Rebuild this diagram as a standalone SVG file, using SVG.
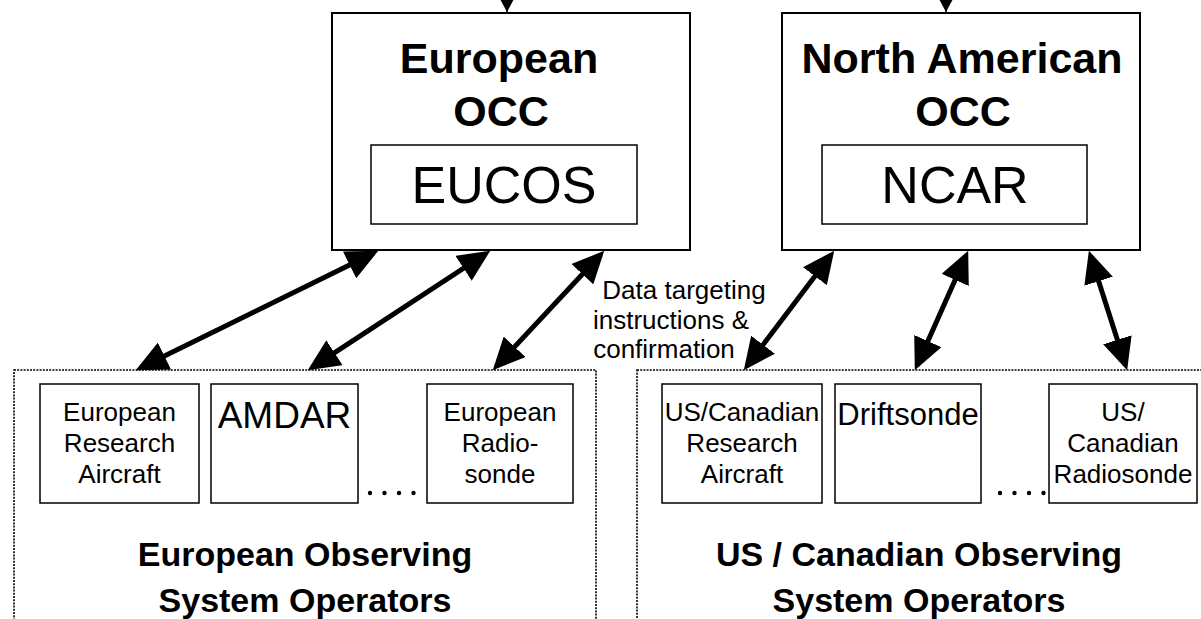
<svg xmlns="http://www.w3.org/2000/svg" width="1201" height="619" viewBox="0 0 1201 619">
<style>
  text { font-family: "Liberation Sans", Arial, sans-serif; fill: #000; text-anchor: middle; }
  .occ { fill: #fff; stroke: #000; stroke-width: 2; }
  .inner { fill: #fff; stroke: #000; stroke-width: 1.5; }
  .group { fill: none; stroke: #000; stroke-width: 1.6; stroke-dasharray: 2 1.2; }
  .title { font-weight: bold; font-size: 43px; }
  .big { font-size: 52px; }
  .small { font-size: 26px; }
  .grp { font-weight: bold; font-size: 34px; }
  .conn { stroke: #000; stroke-width: 5; fill: none; marker-start: url(#ah); marker-end: url(#ah); }
  .dot { fill: #000; }
</style>
<defs>
  <marker id="ah" markerUnits="userSpaceOnUse" markerWidth="32" markerHeight="30" refX="25" refY="14" orient="auto-start-reverse" viewBox="0 0 30 28">
    <path d="M0,0 L30,14 L0,28 Z" fill="#000"/>
  </marker>
  <marker id="top" markerUnits="userSpaceOnUse" markerWidth="16" markerHeight="16" refX="14" refY="7.5" orient="auto" viewBox="0 0 14 15">
    <path d="M0,0 L14,7.5 L0,15 Z" fill="#000"/>
  </marker>
</defs>

<g id="eu-group">
  <rect class="group" x="14" y="370" width="582" height="260"/>
  <text class="grp" x="305" y="566">European Observing</text>
  <text class="grp" x="305" y="612">System Operators</text>
</g>
<g id="us-group">
  <rect class="group" x="637" y="370" width="600" height="260"/>
  <text class="grp" x="919" y="566">US / Canadian Observing</text>
  <text class="grp" x="919" y="612">System Operators</text>
</g>

<g id="eu-occ">
  <rect class="occ" x="332" y="13" width="358" height="237"/>
  <text class="title" x="499" y="73">European</text>
  <text class="title" x="501" y="126">OCC</text>
</g>
<g id="eucos">
  <rect class="inner" x="371" y="145" width="266" height="79"/>
  <text class="big" x="504" y="203">EUCOS</text>
</g>
<g id="na-occ">
  <rect class="occ" x="782" y="13" width="358" height="237"/>
  <text class="title" x="962" y="73">North American</text>
  <text class="title" x="963" y="126">OCC</text>
</g>
<g id="ncar">
  <rect class="inner" x="822" y="145" width="265" height="79"/>
  <text class="big" x="955" y="203">NCAR</text>
</g>

<g id="eu-aircraft">
  <rect class="inner" x="40" y="384" width="159" height="119"/>
  <text class="small" x="119.5" y="421">European</text>
  <text class="small" x="119.5" y="452">Research</text>
  <text class="small" x="119.5" y="483">Aircraft</text>
</g>
<g id="amdar">
  <rect class="inner" x="211" y="384" width="147" height="119"/>
  <text x="284.5" y="428" style="font-size:37px">AMDAR</text>
</g>
<g id="eu-radiosonde">
  <rect class="inner" x="427" y="384" width="146" height="119"/>
  <text class="small" x="500" y="421">European</text>
  <text class="small" x="500" y="452">Radio-</text>
  <text class="small" x="500" y="483">sonde</text>
</g>
<g id="eu-dots">
  <circle class="dot" cx="370" cy="493" r="2.2"/>
  <circle class="dot" cx="384.5" cy="493" r="2.2"/>
  <circle class="dot" cx="399" cy="493" r="2.2"/>
  <circle class="dot" cx="413.5" cy="493" r="2.2"/>
</g>

<g id="us-aircraft">
  <rect class="inner" x="662" y="384" width="160" height="119"/>
  <text class="small" x="742" y="421">US/Canadian</text>
  <text class="small" x="742" y="452">Research</text>
  <text class="small" x="742" y="483">Aircraft</text>
</g>
<g id="driftsonde">
  <rect class="inner" x="835" y="384" width="146" height="119"/>
  <text x="908" y="425" style="font-size:31px">Driftsonde</text>
</g>
<g id="us-radiosonde">
  <rect class="inner" x="1049" y="384" width="148" height="119"/>
  <text class="small" x="1123" y="421">US/</text>
  <text class="small" x="1123" y="452">Canadian</text>
  <text class="small" x="1123" y="483">Radiosonde</text>
</g>
<g id="us-dots">
  <circle class="dot" cx="1000" cy="493" r="2.2"/>
  <circle class="dot" cx="1014.5" cy="493" r="2.2"/>
  <circle class="dot" cx="1029" cy="493" r="2.2"/>
  <circle class="dot" cx="1043.5" cy="493" r="2.2"/>
</g>

<g id="label">
  <text class="small" x="684" y="299">Data targeting</text>
  <text class="small" x="671" y="329">instructions &amp;</text>
  <text class="small" x="664" y="358">confirmation</text>
</g>

<g id="connectors">
  <line x1="507" y1="-10" x2="507" y2="12" stroke="#000" stroke-width="1.5" marker-end="url(#top)"/>
  <line x1="946" y1="-10" x2="946" y2="12" stroke="#000" stroke-width="1.5" marker-end="url(#top)"/>
  <line class="conn" x1="140.5" y1="367.8" x2="373.5" y2="253.2"/>
  <line class="conn" x1="312.2" y1="367.3" x2="485.8" y2="253.7"/>
  <line class="conn" x1="496.4" y1="366.3" x2="600.6" y2="254.7"/>
  <line class="conn" x1="747" y1="366" x2="831" y2="255"/>
  <line class="conn" x1="917" y1="365.4" x2="966" y2="255.6"/>
  <line class="conn" x1="1125.5" y1="365.2" x2="1090.5" y2="255.8"/>
</g>
</svg>
